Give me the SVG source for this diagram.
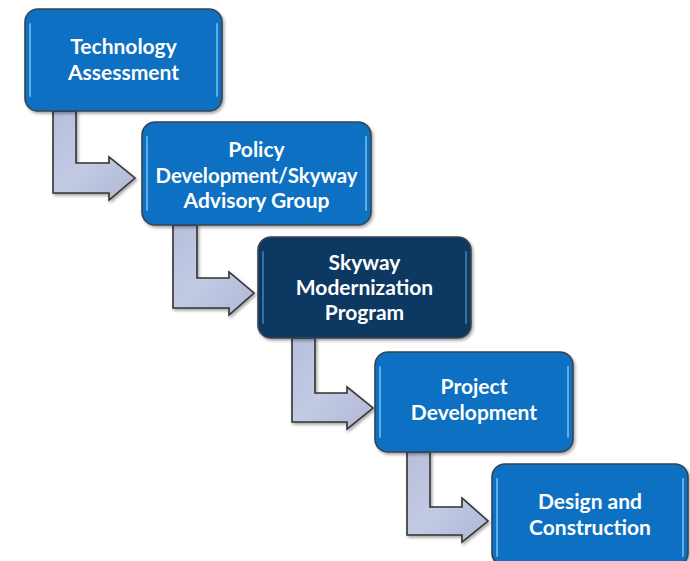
<svg xmlns="http://www.w3.org/2000/svg" width="690" height="561" viewBox="0 0 690 561">
<style>
.box{fill:#0870C2;stroke:#3A4450;stroke-width:1.6}
.dark{fill:#0B3862}
.hl{fill:none;stroke:#8FD8FF;stroke-width:2;stroke-linecap:round;opacity:0.6}
.arrow{fill:url(#ag);stroke:#333;stroke-width:1.6;stroke-linejoin:miter}
text{font-family:Lato,"Open Sans","Liberation Sans",sans-serif;font-weight:bold;font-size:21px;fill:#fff;text-anchor:middle}
</style>
<defs>
<linearGradient id="ag" x1="0" y1="0" x2="1" y2="1">
<stop offset="0" stop-color="#B6BFDB"/>
<stop offset="0.5" stop-color="#C3CAE4"/>
<stop offset="1" stop-color="#AEB7D3"/>
</linearGradient>
<filter id="sh" x="-10%" y="-10%" width="125%" height="130%">
<feDropShadow dx="1.5" dy="2" stdDeviation="1.5" flood-color="#000" flood-opacity="0.35"/>
</filter>
</defs>
<g id="connectors" filter="url(#sh)">
<path class="arrow" d="M53,111 L76,111 L76,163 L109,163 L109,157 L135,178 L109,200 L109,193 L53,193 Z"/>
<path class="arrow" d="M173,225 L197,225 L197,278 L229,278 L229,272 L254,293 L229,315 L229,308 L173,308 Z"/>
<path class="arrow" d="M292,338 L315,338 L315,393 L347,393 L347,387 L373,408 L347,429 L347,422 L292,422 Z"/>
<path class="arrow" d="M407,452 L430,452 L430,507 L462,507 L462,498 L488,521 L462,542 L462,535 L407,535 Z"/>
</g>
<g id="node1">
<rect class="box" x="25" y="9" width="197" height="102" rx="13" filter="url(#sh)"/>
<path class="hl" d="M30,24 L30,96 M217,24 L217,96"/>
<text x="123.5" y="54">Technology</text>
<text x="123.5" y="80">Assessment</text>
</g>
<g id="node2">
<rect class="box" x="142" y="122" width="229" height="103" rx="13" filter="url(#sh)"/>
<path class="hl" d="M147,137 L147,210 M366,137 L366,210"/>
<text x="256.5" y="157">Policy</text>
<text x="256.5" y="183" textLength="202" lengthAdjust="spacingAndGlyphs">Development/Skyway</text>
<text x="256.5" y="208">Advisory Group</text>
</g>
<g id="node3">
<rect class="box dark" x="258" y="237" width="213" height="101" rx="13" filter="url(#sh)"/>
<path class="hl" d="M263,252 L263,323 M466,252 L466,323" style="opacity:0.35"/>
<text x="364.5" y="270">Skyway</text>
<text x="364.5" y="295">Modernization</text>
<text x="364.5" y="320">Program</text>
</g>
<g id="node4">
<rect class="box" x="375" y="352" width="198" height="100" rx="13" filter="url(#sh)"/>
<path class="hl" d="M380,367 L380,437 M568,367 L568,437"/>
<text x="474" y="394">Project</text>
<text x="474" y="420">Development</text>
</g>
<g id="node5">
<rect class="box" x="492" y="464" width="196" height="102" rx="13" filter="url(#sh)"/>
<path class="hl" d="M497,479 L497,556 M683,479 L683,556"/>
<text x="590" y="509">Design and</text>
<text x="590" y="535">Construction</text>
</g>
</svg>
